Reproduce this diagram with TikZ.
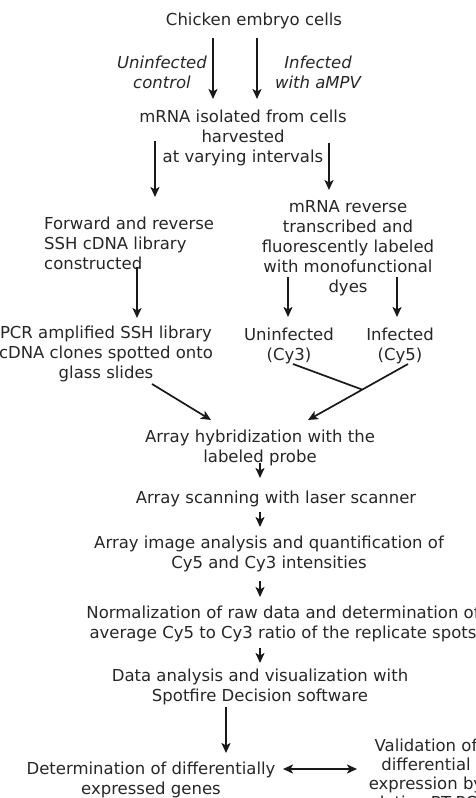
\documentclass[tikz,border=0pt]{standalone}
\usepackage{fontspec}
\setmainfont{DejaVu Sans}
\usetikzlibrary{arrows.meta}

\begin{document}
\begin{tikzpicture}[x=1pt,y=-1pt,>={Stealth[length=10pt,width=9pt,inset=2.5pt]},
  lbl/.style={align=center,inner sep=1pt,text=black!85,font=\fontsize{16.5}{20}\selectfont},
  itlbl/.style={lbl,font=\fontsize{16.5}{20}\selectfont\itshape},
  arr/.style={->,line width=1.7pt,black!90},
  link/.style={line width=1.7pt,black!90}]
\useasboundingbox (0,0) rectangle (476,798);
\clip (0,0) rectangle (476,798);
% steps
\node[lbl] (cells) at (254,21) {Chicken embryo cells};
\node[itlbl] (unctl) at (162,72) {Uninfected\\control};
\node[itlbl] (infct) at (318,72) {Infected\\with aMPV};
\node[lbl] (mrna) at (243,138) {mRNA isolated from cells\\harvested\\at varying intervals};
\node[lbl,align=left,anchor=west] (ssh) at (43,243) {Forward and reverse\\SSH cDNA library\\constructed};
\node[lbl] (rt) at (348,248) {mRNA reverse\\transcribed and\\fluorescently labeled\\with monofunctional\\dyes};
\node[lbl] (pcr) at (106,354) {PCR amplified SSH library\\cDNA clones spotted onto\\glass slides};
\node[lbl] (cy3) at (289,346) {Uninfected\\(Cy3)};
\node[lbl] (cy5) at (400,346) {Infected\\(Cy5)};
\node[lbl] (hyb) at (260,448) {Array hybridization with the\\labeled probe};
\node[lbl] (scan) at (276,499) {Array scanning with laser scanner};
\node[lbl] (img) at (269,554) {Array image analysis and quantification of\\Cy5 and Cy3 intensities};
\node[lbl] (norm) at (283,624) {Normalization of raw data and determination of\\average Cy5 to Cy3 ratio of the replicate spots};
\node[lbl] (data) at (260,687) {Data analysis and visualization with\\Spotfire Decision software};
\node[lbl] (deg) at (151,780) {Determination of differentially\\expressed genes};
\node[lbl,font=\fontsize{16.5}{19}\selectfont] (valid) at (426,774) {Validation of\\differential\\expression by\\relative RT-PCR};
\coordinate (jn) at (362,389.5);
% connectors
\draw[arr] ([xshift=-41pt,yshift=-17pt]cells.center) -- ([xshift=-30pt,yshift=39pt]mrna.center);
\draw[arr] ([xshift=3pt,yshift=-17pt]cells.center) -- ([xshift=14pt,yshift=39pt]mrna.center);
\draw[arr] ([xshift=-88pt,yshift=-3pt]mrna.center) -- ([xshift=112pt,yshift=46pt]ssh.west);
\draw[arr] ([xshift=86pt,yshift=-5pt]mrna.center) -- ([xshift=-19pt,yshift=58pt]rt.center);
\draw[arr] ([xshift=94pt,yshift=-24pt]ssh.west) -- ([xshift=31pt,yshift=36pt]pcr.center);
\draw[arr] ([xshift=-60pt,yshift=-29pt]rt.center) -- ([xshift=-1pt,yshift=29pt]cy3.center);
\draw[arr] ([xshift=49pt,yshift=-29pt]rt.center) -- ([xshift=-3pt,yshift=29pt]cy5.center);
\draw[arr] ([xshift=8pt,yshift=-18pt]cy5.center) -- ([xshift=48pt,yshift=28pt]hyb.center);
\draw[link] ([xshift=4pt,yshift=-18pt]cy3.center) -- (jn);
\draw[arr] ([xshift=46pt,yshift=-30pt]pcr.center) -- ([xshift=-49pt,yshift=28pt]hyb.center);
\draw[arr] ([yshift=-15pt]hyb.center) -- ([xshift=-16pt,yshift=21pt]scan.center);
\draw[arr] ([xshift=-16pt,yshift=-13pt]scan.center) -- ([xshift=-9pt,yshift=27pt]img.center);
\draw[arr] ([xshift=-9pt,yshift=-27pt]img.center) -- ([xshift=-23pt,yshift=27pt]norm.center);
\draw[arr] ([xshift=-23pt,yshift=-24pt]norm.center) -- ([yshift=24pt]data.center);
\draw[arr] ([xshift=-34pt,yshift=-20pt]data.center) -- ([xshift=75pt,yshift=27pt]deg.center);
\draw[arr,<->] ([xshift=132pt,yshift=11pt]deg.center) -- ([xshift=-69pt,yshift=5pt]valid.center);
\end{tikzpicture}
\end{document}
